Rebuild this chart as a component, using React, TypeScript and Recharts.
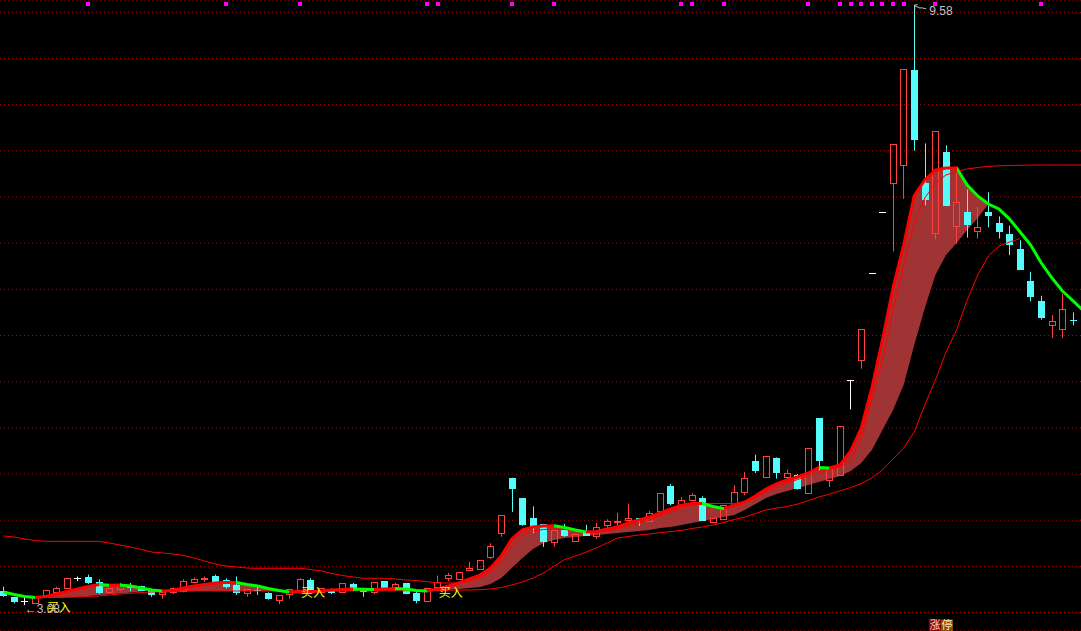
import React from 'react';
import { ComposedChart, XAxis, YAxis, CartesianGrid, Bar, Line, Area, Scatter } from 'recharts';

// daily candles (102 bars)
const opens = [
  3.23, 3.16, 3.12, 3.10, 3.18, 3.22, 3.26, 3.37, 3.38, 3.32,
  3.22, 3.25, 3.29, 3.28, 3.25, 3.19, 3.22, 3.23, 3.33, 3.36,
  3.39, 3.35, 3.29, 3.21, 3.24, 3.21, 3.13, 3.19, 3.24, 3.35,
  3.22, 3.24, 3.22, 3.30, 3.25, 3.22, 3.34, 3.26, 3.31, 3.21,
  3.12, 3.27, 3.37, 3.36, 3.45, 3.47, 3.60, 3.86, 4.45, 4.24,
  4.02, 3.95, 3.76, 3.89, 3.77, 3.88, 3.82, 3.94, 3.97, 4.00,
  4.02, 3.99, 4.09, 4.36, 4.14, 4.21, 4.24, 3.98, 4.01, 4.16,
  4.30, 4.64, 4.46, 4.67, 4.46, 4.48, 4.29, 5.10, 4.43, 4.48,
  5.51, 5.73, 6.67, 7.33, 7.65, 7.84, 8.87, 7.65, 7.10, 7.98,
  7.18, 7.33, 7.13, 7.33, 7.21, 7.09, 6.93, 6.59, 6.37, 6.11,
  6.07, 6.16,
];
const highs = [
  3.28, 3.17, 3.16, 3.17, 3.24, 3.28, 3.37, 3.39, 3.41, 3.36,
  3.26, 3.32, 3.32, 3.29, 3.26, 3.22, 3.27, 3.36, 3.38, 3.39,
  3.41, 3.37, 3.39, 3.25, 3.28, 3.22, 3.18, 3.25, 3.37, 3.37,
  3.26, 3.26, 3.32, 3.32, 3.25, 3.33, 3.34, 3.32, 3.32, 3.23,
  3.26, 3.40, 3.43, 3.43, 3.55, 3.56, 3.75, 4.05, 4.46, 4.24,
  4.15, 3.95, 3.89, 3.96, 3.85, 3.95, 3.97, 4.01, 4.08, 4.18,
  4.02, 4.10, 4.29, 4.39, 4.25, 4.29, 4.26, 4.02, 4.16, 4.38,
  4.52, 4.71, 4.69, 4.68, 4.55, 4.50, 4.78, 5.10, 4.58, 5.01,
  5.51, 6.06, 6.67, 7.33, 8.07, 8.88, 9.58, 8.08, 8.21, 8.06,
  7.76, 7.58, 7.39, 7.55, 7.29, 7.19, 7.03, 6.69, 6.43, 6.22,
  6.45, 6.25,
];
const lows = [
  3.17, 3.10, 3.08, 3.10, 3.18, 3.21, 3.26, 3.34, 3.31, 3.20,
  3.22, 3.23, 3.23, 3.24, 3.17, 3.15, 3.20, 3.22, 3.32, 3.33,
  3.32, 3.26, 3.19, 3.17, 3.19, 3.14, 3.09, 3.15, 3.24, 3.21,
  3.22, 3.20, 3.22, 3.23, 3.17, 3.20, 3.24, 3.24, 3.21, 3.10,
  3.12, 3.27, 3.34, 3.36, 3.45, 3.47, 3.58, 3.82, 4.09, 3.94,
  3.86, 3.71, 3.71, 3.82, 3.77, 3.83, 3.80, 3.91, 3.93, 3.98,
  3.94, 3.99, 4.09, 4.16, 4.14, 4.21, 4.00, 3.98, 4.01, 4.16,
  4.27, 4.51, 4.46, 4.45, 4.44, 4.33, 4.29, 4.54, 4.36, 4.48,
  5.20, 5.64, 6.67, 7.33, 6.91, 7.48, 8.00, 7.41, 7.04, 7.40,
  6.99, 7.06, 7.05, 7.17, 7.05, 6.87, 6.71, 6.37, 6.17, 5.97,
  5.97, 6.11,
];
const closes = [
  3.18, 3.12, 3.12, 3.17, 3.24, 3.26, 3.37, 3.37, 3.33, 3.22,
  3.26, 3.29, 3.27, 3.24, 3.19, 3.22, 3.26, 3.34, 3.36, 3.37,
  3.34, 3.28, 3.22, 3.25, 3.24, 3.15, 3.18, 3.25, 3.36, 3.22,
  3.26, 3.22, 3.31, 3.24, 3.23, 3.33, 3.27, 3.30, 3.21, 3.13,
  3.26, 3.33, 3.40, 3.43, 3.48, 3.56, 3.71, 4.05, 4.34, 3.95,
  3.92, 3.77, 3.89, 3.83, 3.85, 3.83, 3.92, 3.99, 3.99, 4.02,
  4.01, 4.07, 4.29, 4.18, 4.21, 4.27, 4.00, 4.02, 4.16, 4.30,
  4.45, 4.54, 4.69, 4.52, 4.51, 4.34, 4.78, 4.65, 4.55, 5.01,
  5.51, 6.06, 6.67, 7.33, 8.07, 8.88, 8.12, 7.47, 8.21, 7.41,
  7.44, 7.20, 7.17, 7.30, 7.13, 6.99, 6.71, 6.42, 6.19, 6.15,
  6.28, 6.16,
];

// thick trend line (red while rising, green while falling); last value sits just past the right edge
const fastLine = [
  3.222, 3.195, 3.174, 3.163, 3.174, 3.201, 3.228, 3.255, 3.282, 3.303,
  3.296, 3.298, 3.287, 3.265, 3.244, 3.233, 3.239, 3.265, 3.287, 3.303,
  3.320, 3.325, 3.325, 3.303, 3.287, 3.260, 3.239, 3.222, 3.222, 3.228,
  3.233, 3.244, 3.249, 3.255, 3.252, 3.249, 3.255, 3.260, 3.255, 3.239,
  3.233, 3.255, 3.287, 3.320, 3.363, 3.406, 3.482, 3.612, 3.796, 3.894,
  3.926, 3.937, 3.939, 3.921, 3.894, 3.872, 3.877, 3.905, 3.926, 3.969,
  4.002, 4.034, 4.078, 4.121, 4.159, 4.181, 4.181, 4.148, 4.126, 4.159,
  4.197, 4.262, 4.338, 4.392, 4.435, 4.468, 4.511, 4.571, 4.565, 4.598,
  4.749, 4.998, 5.431, 5.951, 6.514, 6.980, 7.511, 7.684, 7.790, 7.814,
  7.815, 7.630, 7.511, 7.424, 7.370, 7.261, 7.121, 6.980, 6.785, 6.623,
  6.482, 6.374, 6.265,
];
// lower edge of the shaded band (null = no band)
const bandFloor = [
  null, null, null, 3.163, 3.157, 3.157, 3.163, 3.168, 3.179, 3.190,
  3.195, 3.206, 3.217, 3.228, 3.240, 3.233, 3.228, 3.228, 3.230, 3.233,
  3.233, 3.233, 3.233, 3.233, 3.233, 3.233, 3.233, 3.222, null, null,
  null, null, null, null, null, null, null, null, null, null,
  3.233, 3.239, 3.244, 3.255, 3.265, 3.276, 3.309, 3.374, 3.482, 3.591,
  3.688, 3.753, 3.785, 3.807, 3.818, 3.829, 3.840, 3.850, 3.861, 3.872,
  3.883, 3.894, 3.915, 3.926, 3.948, 3.969, 3.991, 4.013, 4.034, 4.056,
  4.110, 4.175, 4.240, 4.283, 4.316, 4.348, 4.381, 4.413, 4.446, 4.479,
  4.533, 4.619, 4.760, 4.977, 5.193, 5.464, 5.897, 6.298, 6.655, 6.872,
  7.002, 7.142, 7.272, 7.424, null, null, null, null, null, null,
  null, null, null,
];
// thin red upper trail
const upperTrail = [
  3.829, 3.818, 3.796, 3.780, 3.771, 3.771, 3.771, 3.771, 3.771, 3.771,
  3.753, 3.731, 3.710, 3.683, 3.655, 3.645, 3.634, 3.618, 3.591, 3.558,
  3.526, 3.504, 3.493, 3.482, 3.479, 3.479, 3.479, 3.479, 3.479, 3.466,
  3.450, 3.423, 3.401, 3.385, 3.371, 3.371, 3.371, 3.363, 3.352, 3.347,
  3.334, 3.320, 3.320, 3.320, 3.341, 3.374, 3.439, 3.547, 3.710, 3.829,
  3.883, 3.899, 3.905, 3.899, 3.883, 3.866, 3.866, 3.883, 3.905, 3.937,
  3.969, 4.002, 4.045, 4.089, 4.132, 4.164, 4.181, 4.181, 4.181, 4.181,
  4.192, 4.240, 4.305, 4.359, 4.403, 4.441, 4.479, 4.516, 4.544, 4.581,
  4.652, 4.890, 5.302, 5.735, 6.276, 6.763, 7.229, 7.489, 7.651, 7.738,
  7.776, 7.803, 7.819, 7.832, 7.838, 7.841, 7.843, 7.845, 7.846, 7.846,
  7.846, 7.846, 7.846,
];
// thin red lower trail
const lowerTrail = [
  null, null, 3.163, 3.163, 3.165, 3.166, 3.168, 3.168, 3.174, 3.179,
  3.190, 3.201, 3.208, 3.217, 3.222, 3.225, 3.230, 3.233, 3.236, 3.233,
  3.233, 3.233, 3.233, 3.233, 3.233, 3.233, 3.233, 3.233, 3.236, 3.236,
  3.236, 3.236, 3.236, 3.236, 3.236, 3.236, 3.236, 3.236, 3.236, 3.236,
  3.236, 3.239, 3.241, 3.244, 3.244, 3.247, 3.255, 3.271, 3.298, 3.331,
  3.374, 3.428, 3.504, 3.574, 3.612, 3.655, 3.699, 3.753, 3.807, 3.823,
  3.840, 3.850, 3.864, 3.877, 3.888, 3.910, 3.926, 3.948, 3.975, 4.007,
  4.034, 4.072, 4.110, 4.132, 4.148, 4.175, 4.213, 4.251, 4.283, 4.316,
  4.354, 4.397, 4.457, 4.544, 4.663, 4.782, 4.955, 5.247, 5.518, 5.821,
  6.059, 6.384, 6.655, 6.861, 6.969, 7.012, 7.050, null, null, null,
  null, null, null,
];

const signalBars = [8, 21, 28, 40, 41, 48, 52, 64, 65, 68, 76, 79, 80, 81, 82, 83, 84, 85, 88, 98];
const signalLevel = 9.595;
const buyBars = [4, 28, 41];
const buyLabelAt = [3.01, 3.17, 3.17];
const lowMark = { bar: 2, price: 3.08, text: '3.08' };
const highMark = { bar: 86, price: 9.58, text: '9.58' };
const limitTag = { bar: 88, price: 2.86 };
const gridLevels = [3, 3.5, 4, 4.5, 5, 5.5, 6, 6.5, 7, 7.5, 8, 8.5, 9, 9.5];

const UP = '#ff4040';
const DOWN = '#54fcfc';
const LINE_RED = '#ff0000';
const LINE_GREEN = '#00ff00';

const rows = fastLine.map((fast, i) => {
  const hasBar = i < opens.length;
  return {
    i,
    open: opens[i],
    high: highs[i],
    low: lows[i],
    close: closes[i],
    prevClose: i > 0 ? closes[i - 1] : opens[i],
    range: hasBar ? [lows[i], highs[i]] : null,
    fast,
    band: bandFloor[i] == null ? null : [bandFloor[i], fast],
    upper: upperTrail[i],
    lower: lowerTrail[i],
  };
});

const last = fastLine.length - 1;
const fastStops = fastLine.slice(1).flatMap((v, k) => {
  const color = v >= fastLine[k] ? LINE_RED : LINE_GREEN;
  return [
    { offset: k / last, color },
    { offset: (k + 1) / last, color },
  ];
});

const crisp = (v: number) => Math.round(v - 0.5) + 0.5;

const Candle = (props: any) => {
  const { x, y, width, height, payload } = props;
  if (x == null || y == null || !payload || payload.range == null) return null;
  const { open, high, low, close, prevClose } = payload;
  const cx = crisp(x + width / 2);
  const top = Math.min(y, y + height);
  const bottom = Math.max(y, y + height);
  const span = high - low;
  const toY = (p: number) => (span > 0 ? top + ((high - p) / span) * (bottom - top) : top);
  const yo = crisp(toY(open));
  const yc = crisp(toY(close));

  if (open === close) {
    const color = close < prevClose ? DOWN : '#ffffff';
    return (
      <g>
        {span > 0 && <line x1={cx} x2={cx} y1={top} y2={bottom} stroke={color} />}
        <line x1={cx - 3.5} x2={cx + 3.5} y1={yo} y2={yo} stroke={color} />
      </g>
    );
  }
  if (close > open) {
    return (
      <g>
        <line x1={cx} x2={cx} y1={top} y2={yc} stroke={UP} />
        <line x1={cx} x2={cx} y1={yo} y2={bottom} stroke={UP} />
        <rect x={cx - 3} y={yc} width={6} height={Math.max(yo - yc, 1)} fill="none" stroke={UP} />
      </g>
    );
  }
  return (
    <g>
      <line x1={cx} x2={cx} y1={top} y2={bottom} stroke={DOWN} />
      <rect x={cx - 3.5} y={yo - 0.5} width={7} height={Math.max(yc - yo + 1, 1)} fill={DOWN} />
    </g>
  );
};

const SignalDot = (p: any) => (
  <rect x={Math.round(p.cx) - 2} y={Math.round(p.cy) - 2} width={4} height={4} fill="#ff00ff" />
);

const BuyTag = (p: any) => (
  <text x={p.cx + 1} y={p.cy} fill="#ffff00" fontSize={12} fontFamily="Noto Sans CJK SC">
    买入
  </text>
);

const LowTag = (p: any) => (
  <text x={p.cx} y={p.cy + 8} fill="#c0c0c0" fontSize={12} fontFamily="Liberation Sans">
    {'←' + lowMark.text}
  </text>
);

const HighTag = (p: any) => (
  <g>
    <path
      d={`M${p.cx + 0.5},${p.cy + 5} V${p.cy} H${p.cx + 3.5} M${p.cx + 1},${p.cy + 1} L${p.cx + 5},${p.cy + 3} L${p.cx + 8},${p.cy + 3} L${p.cx + 12},${p.cy + 4}`}
      stroke="#c0c0c0"
      fill="none"
    />
    <text x={p.cx + 15} y={p.cy + 10} fill="#c0c0c0" fontSize={12} fontFamily="Liberation Sans">
      {highMark.text}
    </text>
  </g>
);

const LimitTag = (p: any) => (
  <g fontSize={11} fontFamily="Noto Sans CJK SC">
    <rect x={p.cx - 6.5} y={p.cy - 6} width={12} height={12} fill="#8c0000" />
    <rect x={p.cx + 5.5} y={p.cy - 6} width={12} height={12} fill="#8c4a00" />
    <text x={p.cx - 0.5} y={p.cy + 4} fill="#ffd8d8" textAnchor="middle">涨</text>
    <text x={p.cx + 11.5} y={p.cy + 4} fill="#ffe8c8" textAnchor="middle">停</text>
  </g>
);

const App: React.FC = () => {
  return (
    <div style={{ position: 'fixed', left: 0, top: 0, width: 1081, height: 631, background: '#000' }}>
      <ComposedChart width={1081} height={631} data={rows} margin={{ top: 0, right: 0, bottom: 0, left: 0 }}>
        <defs>
          <linearGradient id="fastColor" x1="0" y1="0" x2="1" y2="0">
            {fastStops.map((s, n) => (
              <stop key={n} offset={s.offset} stopColor={s.color} />
            ))}
          </linearGradient>
        </defs>
        <XAxis type="number" dataKey="i" domain={[-0.33, 101.75]} hide allowDataOverflow />
        <YAxis type="number" domain={[2.8, 9.633]} ticks={gridLevels} interval={0} hide allowDataOverflow />
        <CartesianGrid vertical={false} stroke="#b40000" strokeDasharray="1 3" />
        <Area dataKey="band" fill="#a03434" fillOpacity={1} stroke="none" activeDot={false} isAnimationActive={false} />
        <Bar dataKey="range" shape={Candle} barSize={7} isAnimationActive={false} />
        <Line dataKey="upper" type="linear" stroke={LINE_RED} strokeWidth={1} dot={false} activeDot={false} isAnimationActive={false} />
        <Line dataKey="lower" type="linear" stroke={LINE_RED} strokeWidth={1} dot={false} activeDot={false} isAnimationActive={false} />
        <Line dataKey="fast" type="linear" stroke="url(#fastColor)" strokeWidth={3} dot={false} activeDot={false} isAnimationActive={false} />
        <Scatter data={signalBars.map((i) => ({ i, v: signalLevel }))} dataKey="v" shape={SignalDot} isAnimationActive={false} />
        <Scatter data={buyBars.map((i, k) => ({ i, v: buyLabelAt[k] }))} dataKey="v" shape={BuyTag} isAnimationActive={false} />
        <Scatter data={[{ i: lowMark.bar, v: lowMark.price }]} dataKey="v" shape={LowTag} isAnimationActive={false} />
        <Scatter data={[{ i: highMark.bar, v: highMark.price }]} dataKey="v" shape={HighTag} isAnimationActive={false} />
        <Scatter data={[{ i: limitTag.bar, v: limitTag.price }]} dataKey="v" shape={LimitTag} isAnimationActive={false} />
      </ComposedChart>
    </div>
  );
};

export default App;
